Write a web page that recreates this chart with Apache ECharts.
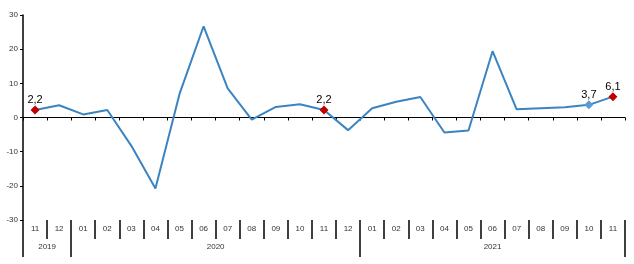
<!DOCTYPE html>
<html>
<head>
<meta charset="utf-8">
<script src="https://cdn.jsdelivr.net/npm/echarts@6/dist/echarts.min.js"></script>
<style>html,body{margin:0;padding:0;background:#fff}#c{width:634px;height:264px}</style>
</head>
<body>
<div id="c"></div>
<script>
const months = ['11','12','01','02','03','04','05','06','07','08','09','10','11','12','01','02','03','04','05','06','07','08','09','10','11'];
const values = [2.2, 3.6, 0.9, 2.2, -8.3, -20.8, 6.9, 26.7, 8.5, -0.6, 3.1, 3.9, 2.2, -3.7, 2.7, 4.6, 6.0, -4.4, -3.8, 19.4, 2.4, 2.7, 3.0, 3.7, 6.1];
const years = ['2019', '2020', '2021'];
const yearMonthCounts = [2, 12, 11];
const redPoints = [0, 12, 24];
const bluePoints = [23];
const yTicks = [-30, -20, -10, 0, 10, 20, 30];

const yearBounds = [0];
yearMonthCounts.forEach(n => yearBounds.push(yearBounds[yearBounds.length - 1] + n));
const yearCenters = years.map((y, i) => (yearBounds[i] + yearBounds[i + 1]) / 2);

const seriesData = values.map((v, i) => {
  if (redPoints.includes(i) || bluePoints.includes(i)) {
    return {
      value: v,
      symbol: 'diamond',
      symbolSize: 9,
      itemStyle: { color: redPoints.includes(i) ? '#c00000' : '#5b9bd5' },
      label: { show: true }
    };
  }
  return { value: v, symbol: 'none' };
});

const chart = echarts.init(document.getElementById('c'), null, { renderer: 'canvas' });
const txt = { fontFamily: 'Liberation Sans, Arial, sans-serif', fontSize: 8, color: '#333' };
chart.setOption({
  animation: false,
  grid: { left: 23, right: 9, top: 15, bottom: 44 },
  xAxis: [
    {
      type: 'category', data: months, boundaryGap: true, position: 'bottom',
      axisLine: { onZero: true, lineStyle: { color: '#000', width: 1 } },
      axisTick: { show: true, interval: 0, length: 3, lineStyle: { color: '#000' } },
      axisLabel: { show: false }, splitLine: { show: false }
    },
    {
      type: 'category', data: months, boundaryGap: true, position: 'bottom', offset: 0,
      axisLine: { show: false, onZero: false },
      axisTick: { show: true, interval: 0, length: 19, lineStyle: { color: '#000', width: 1.5 } },
      axisLabel: Object.assign({ interval: 0, margin: 5 }, txt),
      splitLine: { show: false }
    },
    {
      type: 'value', min: 0, max: yearBounds[yearBounds.length - 1], position: 'bottom', offset: 19,
      axisLine: { show: false, onZero: false },
      axisTick: { show: true, length: 18, customValues: yearBounds, lineStyle: { color: '#000', width: 1.5 } },
      axisLabel: Object.assign({
        margin: 4, customValues: yearCenters,
        formatter: v => { const i = yearCenters.indexOf(v); return i >= 0 ? years[i] : ''; }
      }, txt),
      splitLine: { show: false }
    }
  ],
  yAxis: {
    type: 'value', min: -30, max: 30, interval: 10,
    axisLine: { show: true, onZero: false, lineStyle: { color: '#000', width: 1.5 } },
    axisTick: { show: true, length: 3, lineStyle: { color: '#000' } },
    axisLabel: Object.assign({ margin: 5, formatter: v => yTicks.includes(v) ? String(v) : '' }, txt),
    splitLine: { show: false }
  },
  series: [{
    type: 'line', xAxisIndex: 0, yAxisIndex: 0,
    data: seriesData,
    showSymbol: true, showAllSymbol: true,
    lineStyle: { color: '#3a84c3', width: 2 },
    itemStyle: { color: '#3a84c3' },
    label: {
      show: false, position: 'top', distance: 0,
      fontFamily: 'Liberation Sans, Arial, sans-serif', fontSize: 11, color: '#000',
      formatter: p => String(p.value).replace('.', ',')
    },
    z: 3
  }]
});
</script>
</body>
</html>
